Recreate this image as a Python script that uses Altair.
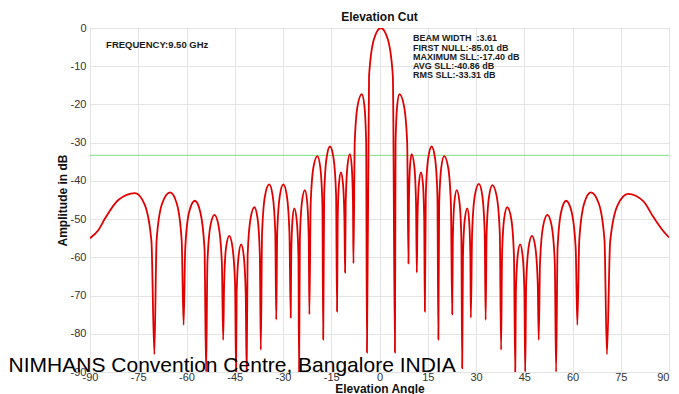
import altair as alt
import pandas as pd

# ---- data ----
angle_deg = [
    -90.0, -87.5, -85.3, -81.2, -76.0, -73.0, -70.9, -70.0,
    -69.3, -67.6, -65.1, -63.0, -61.5, -60.9,
    -60.4, -59.2, -57.4, -55.7, -54.4, -53.9,
    -53.5, -52.6, -51.3, -50.0, -49.0, -48.6,
    -48.3, -47.7, -46.7, -45.7, -44.9, -44.6,
    -44.4, -43.8, -43.0, -42.2, -41.6, -41.3,
    -41.0, -40.1, -38.9, -37.9, -37.2, -36.9,
    -36.5, -35.6, -34.3, -33.2, -32.4, -32.1,
    -31.8, -31.0, -29.9, -28.8, -28.0, -27.6,
    -27.45, -27.05, -26.5, -25.75, -25.2, -25.0,
    -24.75, -24.1, -23.2, -22.5, -22.0, -21.8,
    -21.4, -20.55, -19.3, -18.4, -17.75, -17.5,
    -17.2, -16.45, -15.4, -14.3, -13.5, -13.2,
    -13.0, -12.6, -12.0, -11.35, -10.9, -10.7,
    -10.5, -9.95, -9.2, -8.65, -8.25, -8.1,
    -7.7, -6.8, -5.5, -4.7, -4.15, -3.9,
    -3.25, -1.75, 0.4, 2.6, 4.15, 4.8,
    5.0, 5.5, 6.2, 7.6, 8.6, 9.0,
    9.15, 9.5, 10.0, 10.8, 11.35, 11.6,
    11.8, 12.25, 12.9, 13.5, 13.9, 14.1,
    14.4, 15.15, 16.2, 17.25, 18.0, 18.3,
    18.55, 19.2, 20.1, 21.35, 22.2, 22.6,
    22.8, 23.3, 24.0, 24.85, 25.45, 25.7,
    25.95, 26.5, 27.3, 27.85, 28.25, 28.4,
    28.8, 29.65, 30.9, 31.95, 32.7, 33.0,
    33.3, 34.05, 35.1, 36.45, 37.4, 37.8,
    38.1, 38.75, 39.7, 40.95, 41.8, 42.2,
    42.4, 42.95, 43.7, 44.5, 45.05, 45.3,
    45.6, 46.35, 47.4, 48.45, 49.2, 49.5,
    49.9, 50.85, 52.2, 53.55, 54.5, 54.9,
    55.35, 56.45, 58.0, 59.75, 61.0, 61.5,
    62.1, 63.6, 65.7, 68.2, 69.95, 70.7,
    71.7, 74.0, 77.3, 82.0, 85.1, 88.0, 90.0,
]

amplitude_db = [
    -55.0, -53.0, -49.8, -45.0, -43.2, -46.2, -55.8, -85.4,
    -55.6, -46.0, -43.0, -46.0, -55.6, -77.7,
    -57.8, -48.2, -45.2, -48.2, -57.8, -90.0,
    -61.5, -51.9, -48.9, -51.9, -61.5, -81.6,
    -67.0, -57.4, -54.4, -57.4, -67.0, -90.0,
    -69.2, -59.6, -56.6, -59.6, -69.2, -90.0,
    -59.5, -49.9, -46.9, -49.9, -59.5, -84.2,
    -53.5, -43.9, -40.9, -43.9, -53.5, -76.3,
    -53.5, -43.9, -40.9, -43.9, -53.5, -75.8,
    -59.8, -50.2, -47.2, -50.2, -59.8, -90.0,
    -55.0, -45.4, -42.4, -45.4, -55.0, -74.9,
    -46.1, -36.5, -33.5, -36.5, -46.1, -81.5,
    -43.6, -34.0, -31.0, -34.0, -43.6, -74.2,
    -50.4, -40.8, -37.8, -40.8, -50.4, -64.0,
    -45.6, -36.0, -33.0, -36.0, -45.6, -61.6,
    -29.9, -20.3, -17.3, -20.3, -29.9, -84.9,
    -12.6, -3.0, 0.0, -3.0, -12.6, -84.9,
    -29.9, -20.3, -17.3, -20.3, -29.9, -61.6,
    -45.6, -36.0, -33.0, -36.0, -45.6, -64.0,
    -50.4, -40.8, -37.8, -40.8, -50.4, -74.2,
    -43.6, -34.0, -31.0, -34.0, -43.6, -81.5,
    -46.1, -36.5, -33.5, -36.5, -46.1, -74.9,
    -55.0, -45.4, -42.4, -45.4, -55.0, -89.0,
    -59.8, -50.2, -47.2, -50.2, -59.8, -75.8,
    -53.4, -43.8, -40.8, -43.8, -53.4, -76.4,
    -53.7, -44.1, -41.1, -44.1, -53.7, -84.2,
    -59.5, -49.9, -46.9, -49.9, -59.5, -90.0,
    -69.2, -59.6, -56.6, -59.6, -69.2, -90.0,
    -67.0, -57.4, -54.4, -57.4, -67.0, -81.6,
    -61.5, -51.9, -48.9, -51.9, -61.5, -90.0,
    -57.8, -48.2, -45.2, -48.2, -57.8, -77.7,
    -55.6, -46.0, -43.0, -46.0, -55.6, -85.4,
    -56.0, -46.4, -43.4, -45.3, -49.4, -52.9, -54.8,
]

rms_sll_db = [-33.31]

x_ticks = [-90, -75, -60, -45, -30, -15, 0, 15, 30, 45, 60, 75, 90]
y_ticks = [-90, -80, -70, -60, -50, -40, -30, -20, -10, 0]

info_text = [
    "BEAM WIDTH\u00a0 :3.61",
    "FIRST NULL:-85.01 dB",
    "MAXIMUM SLL:-17.40 dB",
    "AVG SLL:-40.86 dB",
    "RMS SLL:-33.31 dB",
]
info_angle = [10.4, 10.4, 10.4, 10.4, 10.4]
info_db = [-2.7, -5.3, -7.6, -9.9, -12.2]

freq_text = ["FREQUENCY:9.50 GHz"]
freq_angle = [-85.0]
freq_db = [-4.45]

venue_text = ["NIMHANS Convention Centre, Bangalore INDIA"]
venue_angle = [-115.3]
venue_db = [-90.0]

# ---- chart ----
FONT = "Liberation Sans"

pattern_df = pd.DataFrame({"angle": angle_deg, "amp": amplitude_db,
                           "idx": list(range(len(angle_deg)))})
rule_df = pd.DataFrame({"amp": rms_sll_db})
info_df = pd.DataFrame({"angle": info_angle, "amp": info_db, "t": info_text})
freq_df = pd.DataFrame({"angle": freq_angle, "amp": freq_db, "t": freq_text})
venue_df = pd.DataFrame({"angle": venue_angle, "amp": venue_db, "t": venue_text})

x_scale = alt.Scale(domain=[-90, 90], nice=False, zero=False)
y_scale = alt.Scale(domain=[-90, 0], nice=False, zero=False)

x_axis = alt.Axis(values=x_ticks, title="Elevation Angle",
                  labelExpr="'' + datum.value",
                  labelAlign=alt.ExprRef("datum.value == 90 ? 'right' : 'center'"),
                  labelFlush=False, labelOverlap=False,
                  labelPadding=-1, titlePadding=1)
y_axis = alt.Axis(values=y_ticks, title="Amplitude in dB",
                  labelExpr="'' + datum.value",
                  labelOverlap=False, labelPadding=4, titlePadding=1)


def xy(**kw):
    return dict(
        x=alt.X("angle:Q", scale=x_scale, axis=x_axis),
        y=alt.Y("amp:Q", scale=y_scale, axis=y_axis),
        **kw,
    )


rule = alt.Chart(rule_df).mark_rule(color="#7ee07e", strokeWidth=1).encode(
    y=alt.Y("amp:Q", scale=y_scale, axis=y_axis))

pattern = alt.Chart(pattern_df).mark_line(
    color="#e00000", strokeWidth=1.8, interpolate="monotone", clip=True
).encode(**xy(order="idx:Q"))


def label_layer(df, size, weight, color, baseline):
    return alt.Chart(df).mark_text(
        align="left", baseline=baseline, font=FONT, fontSize=size,
        fontWeight=weight, color=color
    ).encode(**xy(text="t:N"))


freq = label_layer(freq_df, 9.5, "bold", "#1a1a1a", "middle")
info = label_layer(info_df, 9, "bold", "#1a1a1a", "middle")
venue = label_layer(venue_df, 21, "normal", "#000000", "alphabetic")

chart = alt.layer(rule, pattern, freq, info, venue).properties(
    width=579,
    height=344,
    title=alt.TitleParams("Elevation Cut", font=FONT, fontSize=12,
                          fontWeight="bold", color="#111111", offset=5, dy=7,
                          anchor="middle", frame="group"),
    autosize=alt.AutoSizeParams(type="none"),
    padding={"left": 82, "top": 20, "right": 2, "bottom": 22},
).configure_view(
    stroke="#c4c4c4", strokeWidth=1
).configure_axis(
    labelFont=FONT, labelFontSize=11, labelColor="#333333",
    titleFont=FONT, titleFontSize=12, titleFontWeight="bold", titleColor="#111111",
    domain=False, ticks=False, grid=True, gridColor="#e4e4e4", gridWidth=1,
)

chart.save("out.html", embed_options={"renderer": "svg", "actions": False})
